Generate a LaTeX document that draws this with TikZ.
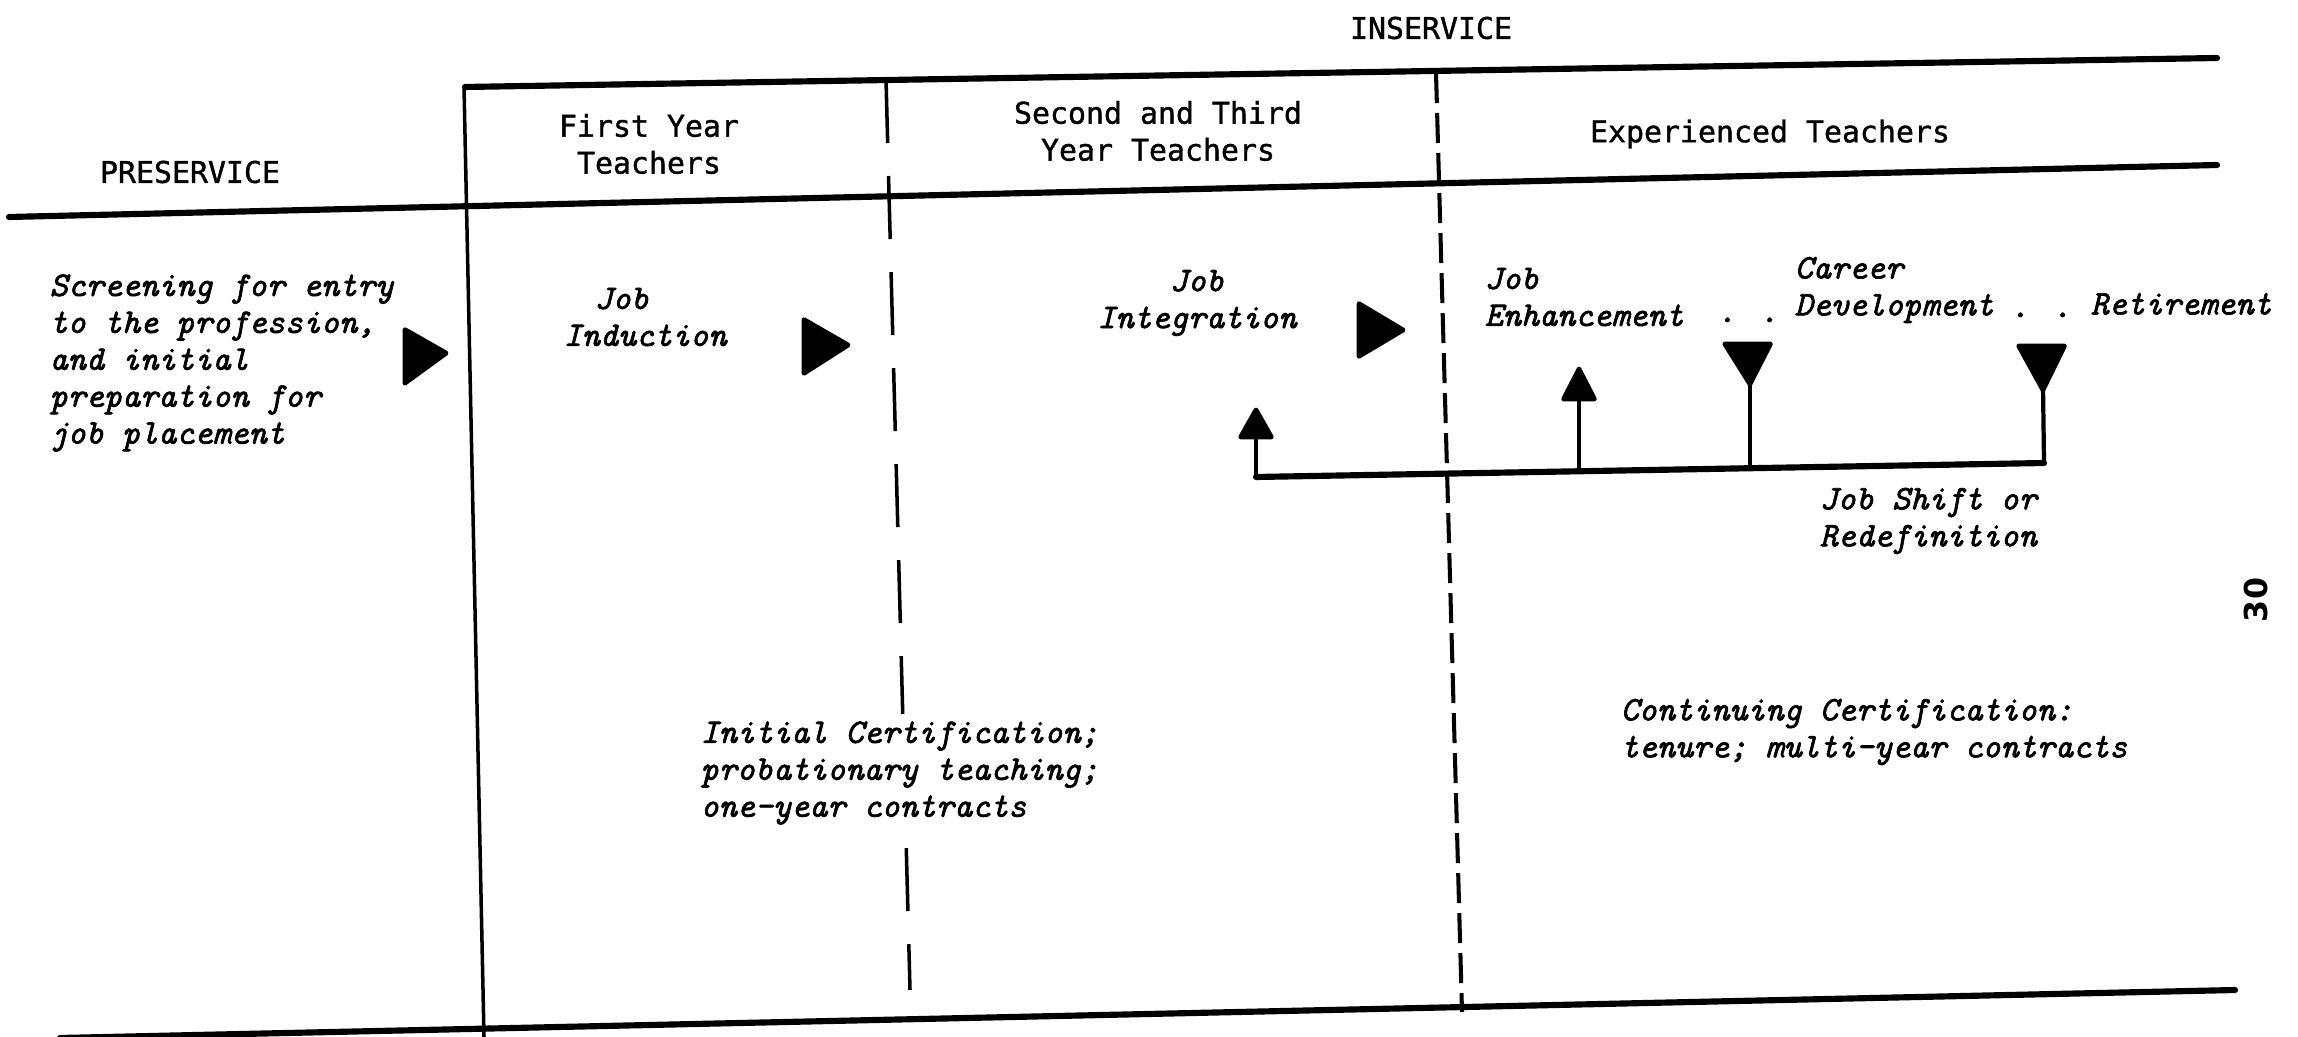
\documentclass[tikz,border=0pt]{standalone}
\usepackage{fontspec}
\usetikzlibrary{arrows.meta}
\newfontfamily\hdfont{DejaVu Sans Mono}[FakeBold=1.2]
\newfontfamily\bodyfont{lmmono10-italic.otf}[FakeBold=2]
\newfontfamily\pgfont{DejaVu Sans}
\tikzset{
  hd/.style={font=\hdfont\fontsize{8.5}{10.5}\selectfont, inner sep=0pt, align=center},
  bd/.style={font=\bodyfont\fontsize{9.8}{10.5}\selectfont, inner sep=0pt, align=left},
  heavy/.style={line width=1.75pt, line cap=round},
  rule/.style={line width=1pt},
  dashA/.style={line width=1pt, dash pattern=on 0.63cm off 0.33cm},
  dashB/.style={line width=1.15pt, dash pattern=on 0.3cm off 0.1cm},
  stem/.style={line width=1.2pt},
  tri/.style={fill=black, draw=black, line width=0.8pt, rounded corners=0.02cm, line join=round},
}
\begin{document}
\begin{tikzpicture}[x=0.01cm,y=-0.01cm]
\fill[white] (0,0) rectangle (2298,1037);
\useasboundingbox (0,0) rectangle (2298,1037);

% frame coordinates
\coordinate (tl) at (465,87);   \coordinate (tr) at (2217,58);
\coordinate (hl) at (9,217);    \coordinate (hr) at (2217,165);
\coordinate (bl) at (60,1038);  \coordinate (br) at (2235,990);
\coordinate (v0t) at (464,87);  \coordinate (v0b) at (484,1037);
\coordinate (v1t) at (886,80);  \coordinate (v1b) at (910,990);
\coordinate (v2t) at (1436,73); \coordinate (v2b) at (1462,1012);

\draw[heavy] (tl) -- (tr);
\draw[heavy] (hl) -- (hr);
\draw[heavy] (bl) -- (br);
\draw[rule] (v0t) -- (v0b);
\draw[dashA] (v1t) -- (v1b);
\draw[dashB] (v2t) -- (v2b);

% headings
\node[hd] (ins) at (1431,28) {INSERVICE};
\node[hd] (pre) at (190,172) {PRESERVICE};
\node[hd] (fy) at (649,144) {First Year\\Teachers};
\node[hd] (st) at (1158,131) {Second and Third\\Year Teachers};
\node[hd] (ex) at (1770,134) {Experienced Teachers};

% body texts
\node[bd, anchor=west] (scr) at (49,363) {Screening for entry\\to the profession,\\and initial\\preparation for\\job placement};
\node[bd, anchor=west] (ind) at (563,317) {\hspace*{0.31cm}Job\\Induction};
\node[bd, align=center] (int) at (1197,303) {Job\\Integration};
\node[bd, anchor=west] (enh) at (1484,297) {Job\\Enhancement};
\node[bd, anchor=base] (d1) at (1748,322) {. .};
\node[bd, anchor=west] (car) at (1794,290) {Career\\Development};
\node[bd, anchor=base] (d2) at (2041,317) {. .};
\node[bd, anchor=west] (ret) at (2090,304) {Retirement};
\node[bd, anchor=west] (jsr) at (1819,521) {Job Shift or\\Redefinition};
\node[bd, anchor=west, fill=white, inner sep=2pt] (ic) at (693,773) {Initial Certification;\\probationary teaching;\\one-year contracts};
\node[bd, anchor=west] (cc) at (1620,732) {Continuing Certification:\\tenure; multi-year contracts};

% big right-pointing triangles
\filldraw[tri] (404,328) -- (448,353) -- (404,385) -- cycle;
\filldraw[tri] (803,318) -- (850,345) -- (803,375) -- cycle;
\filldraw[tri] (1358,302) -- (1405,330) -- (1358,358) -- cycle;

% job shift bracket
\coordinate (jl) at (1256,477); \coordinate (jr) at (2044,463);
\coordinate (a1) at (1256,436);
\coordinate (a2b) at (1579,471); \coordinate (a2) at (1579,398);
\coordinate (c1b) at (1750,468); \coordinate (c1) at (1750,382);
\coordinate (c2) at (2043,388);
\draw[heavy] (jl) -- (jr);
\draw[stem] (jl) -- (a1);
\draw[stem] (a2b) -- (a2);
\draw[stem] (c1b) -- (c1);
\draw[stem] (jr) -- (c2);
\filldraw[tri] (1239,438) -- (1256,408) -- (1273,438) -- cycle;
\filldraw[tri] (1562,400) -- (1579,367) -- (1596,400) -- cycle;
\filldraw[tri] (1723,343) -- (1772,343) -- (1750,386) -- cycle;
\filldraw[tri] (2017,345) -- (2066,345) -- (2043,392) -- cycle;

% page number
\node[font=\pgfont\bfseries\fontsize{9}{10}\selectfont, rotate=90, inner sep=0pt] (pg) at (2256,600) {30};
\end{tikzpicture}
\end{document}
